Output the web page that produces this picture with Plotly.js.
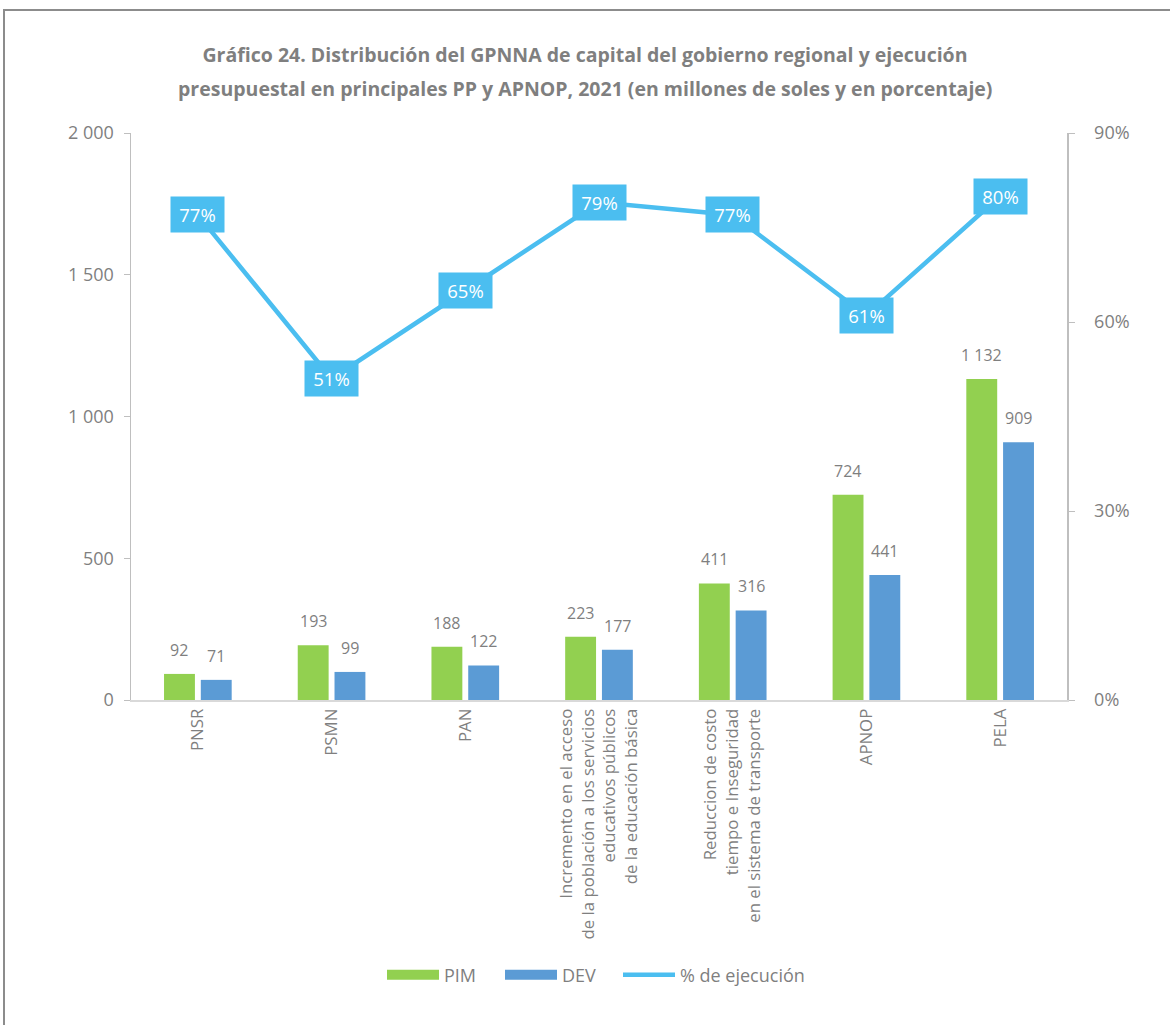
<!DOCTYPE html>
<html><head><meta charset="utf-8">
<script src="https://cdn.plot.ly/plotly-3.0.1.min.js"></script>
<style>body{margin:0;background:#fff}#wrap{position:relative;width:1170px;height:1025px;overflow:hidden}
#frame{position:absolute;left:3px;top:9px;width:1180px;height:1040px;border:2px solid #8c8c8c;pointer-events:none}</style>
</head><body><div id="wrap"><div id="chart" style="width:1170px;height:1025px"></div><div id="frame"></div></div>
<script>
const categories = ["PNSR","PSMN","PAN",
 "Incremento en el acceso<br>de la población a los servicios<br>educativos públicos<br>de la educación básica",
 "Reduccion de costo<br>tiempo e Inseguridad<br>en el sistema de transporte",
 "APNOP","PELA"];
const pim = [92,193,188,223,411,724,1132];
const dev = [71,99,122,177,316,441,909];
const ejec = [0.77,0.51,0.65,0.79,0.77,0.61,0.80];
const titleLines = ["Gráfico 24. Distribución del GPNNA de capital del gobierno regional y ejecución",
 "presupuestal en principales PP y APNOP, 2021 (en millones de soles y en porcentaje)"];

const gray = '#7f7f7f';
const green = '#92D050', blue = '#5B9BD5', cyan = '#4BBEF0';
const font = 'Open Sans, sans-serif';
function fmt(v){return String(v).replace(/\B(?=(\d{3})+(?!\d))/g,' ');}

const traces = [
 {type:'bar',name:'PIM',legendgroup:'pim',showlegend:false,x:categories,y:pim,marker:{color:green},yaxis:'y'},
 {type:'bar',name:'DEV',legendgroup:'dev',showlegend:false,x:categories,y:dev,marker:{color:blue},yaxis:'y'},
 {type:'scatter',mode:'lines',name:'PIM',legendgroup:'pim',legend:'legend',x:[categories[0]],y:[null],line:{color:green,width:12},hoverinfo:'skip'},
 {type:'scatter',mode:'lines',name:'DEV',legendgroup:'dev',legend:'legend2',x:[categories[0]],y:[null],line:{color:blue,width:12},hoverinfo:'skip'},
 {type:'scatter',mode:'lines',name:'% de ejecución',legend:'legend3',x:categories,y:ejec,yaxis:'y2',
  line:{color:cyan,width:4.5}}
];
const ann = [];
categories.forEach((c,i)=>{
 ann.push({x:c,y:pim[i],xref:'x',yref:'y',text:fmt(pim[i]),showarrow:false,xshift:-18.5,yshift:11,yanchor:'bottom',font:{size:16,color:gray,family:font}});
 ann.push({x:c,y:dev[i],xref:'x',yref:'y',text:fmt(dev[i]),showarrow:false,xshift:18.5,yshift:11,yanchor:'bottom',font:{size:16,color:gray,family:font}});
 ann.push({x:c,y:ejec[i],xref:'x',yref:'y2',text:Math.round(ejec[i]*100)+'%',showarrow:false,bgcolor:cyan,width:53,height:35,borderpad:0,font:{size:18.5,color:'#fff',family:font}});
});
ann.push({xref:'paper',yref:'paper',x:(585-131)/936,y:(700-88)/567,text:'<b>'+titleLines[1]+'</b>',showarrow:false,xanchor:'center',yanchor:'middle',font:{size:19.5,color:gray,family:font}});
function leg(px){return {orientation:'h',x:(px-131)/936,xanchor:'left',y:(700-975)/567,yanchor:'middle',font:{size:18,color:gray,family:font},itemwidth:52,bgcolor:'rgba(0,0,0,0)'};}
const layout = {
 width:1170,height:1025,
 margin:{l:131,r:103,t:133,b:325},
 paper_bgcolor:'#fff',plot_bgcolor:'#fff',
 separators:', ',
 font:{family:font,color:gray},
 title:{text:'<b>'+titleLines[0]+'</b>',
  font:{size:19.5,color:gray,family:font},x:585/1170,xref:'container',xanchor:'center',y:1-55/1025,yref:'container',yanchor:'middle'},
 barmode:'group',bargap:0.45,bargroupgap:0.16,
 showlegend:true,
 legend:leg(382),legend2:leg(500),legend3:leg(618),
 xaxis:{type:'category',tickangle:-90,tickfont:{size:16.8,color:gray,family:font},showline:true,linecolor:'#d9d9d9',linewidth:2,ticks:'',showgrid:false,zeroline:false},
 yaxis:{range:[0,2000],dtick:500,tickformat:',d',showgrid:false,zeroline:false,showline:true,linecolor:'#bfbfbf',linewidth:1.5,ticks:'outside',ticklen:6,tickcolor:'#bfbfbf',tickfont:{size:18,color:gray,family:font},ticklabelstandoff:6},
 yaxis2:{range:[0,0.9],dtick:0.3,tickformat:'.0%',overlaying:'y',side:'right',showgrid:false,zeroline:false,showline:true,linecolor:'#bfbfbf',linewidth:1.5,ticks:'outside',ticklen:6,tickcolor:'#bfbfbf',tickfont:{size:18,color:gray,family:font},ticklabelstandoff:16},
 annotations:ann
};
Plotly.newPlot('chart',traces,layout,{displayModeBar:false,staticPlot:true});
</script></body></html>
